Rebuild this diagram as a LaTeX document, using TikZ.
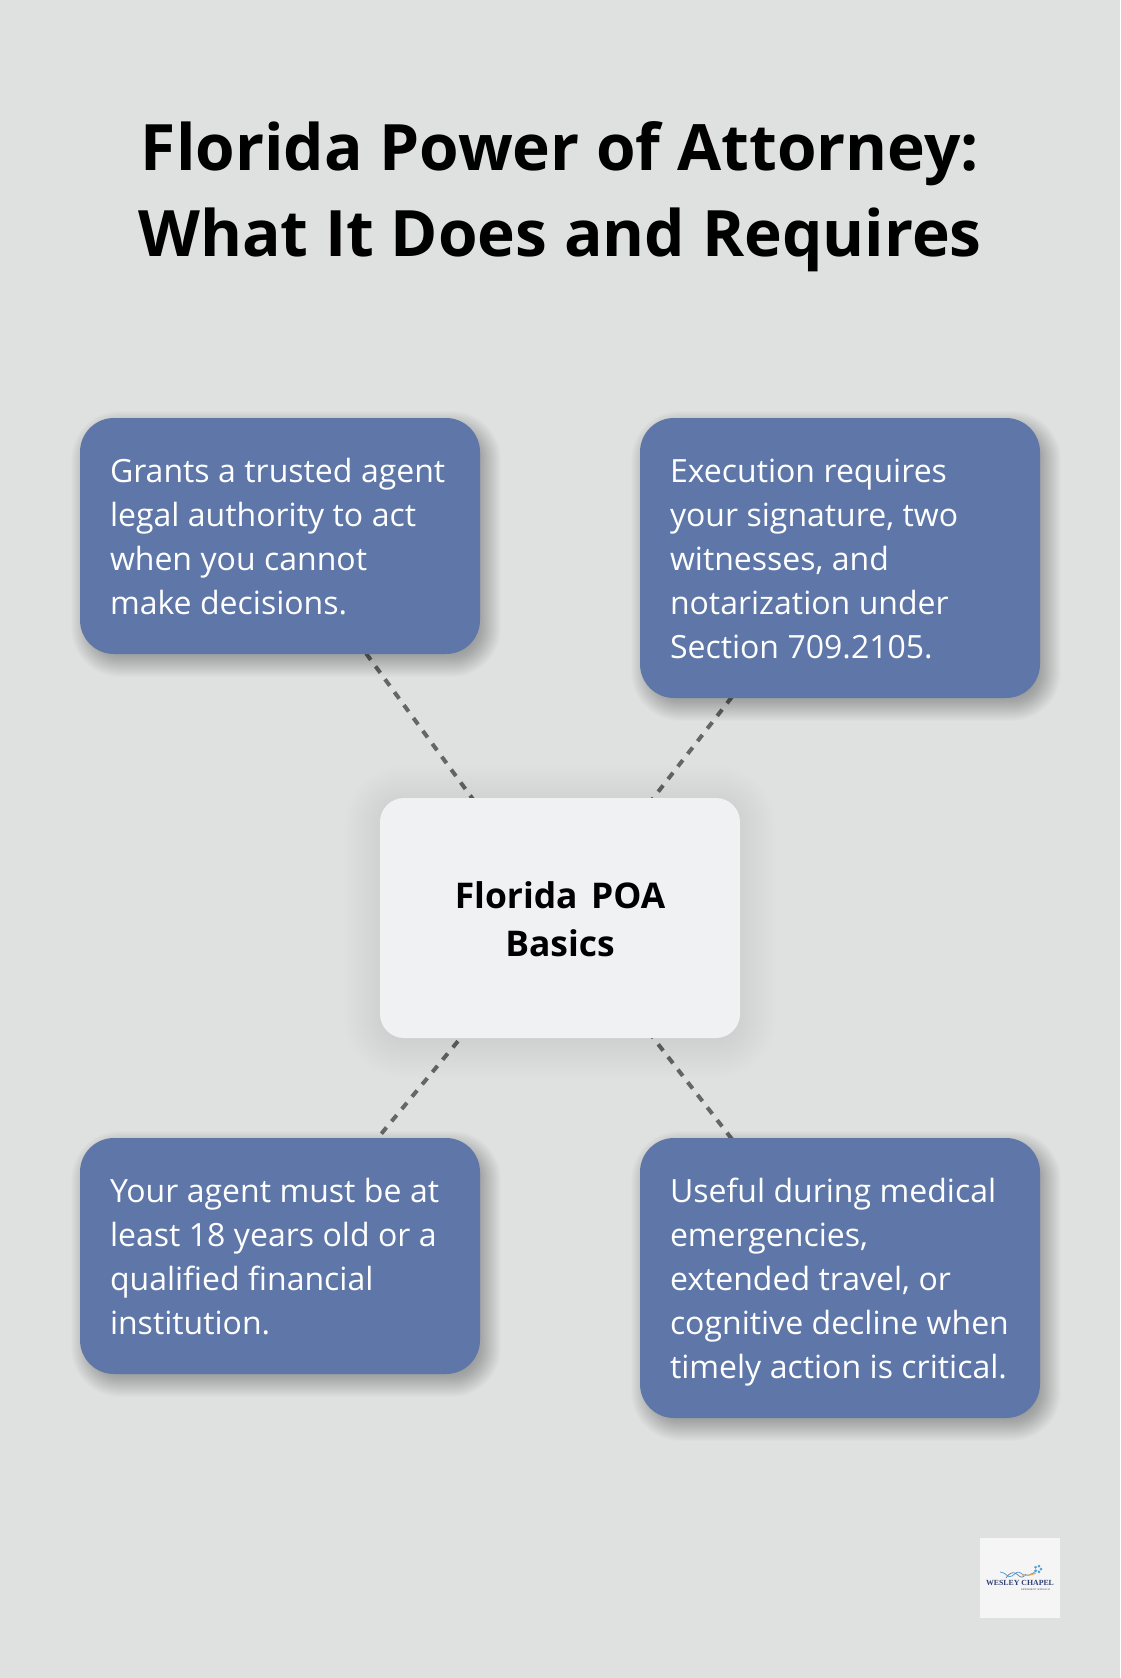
\documentclass[tikz,border=0pt]{standalone}
\usepackage{fontspec}
\setmainfont{Open Sans}
\usetikzlibrary{calc}
\pgfdeclarelayer{back}
\pgfsetlayers{back,main}
\definecolor{pagebg}{HTML}{DFE1E0}
\definecolor{bluebox}{HTML}{5E77A8}
\definecolor{centerbox}{HTML}{EFF1F3}
\definecolor{dashgrey}{HTML}{666666}
\definecolor{logobg}{HTML}{F5F5F5}
\definecolor{logonavy}{HTML}{2F3F77}
\definecolor{logoblue}{HTML}{4FA3D8}
\definecolor{logoorange}{HTML}{F0A850}
\newcommand{\softshadow}[7]{% x0 y0 x1 y1 radius blur opacity
  \foreach \k in {0,...,29}{
    \pgfmathsetmacro{\ex}{#6*(1-\k/14.5)}
    \pgfmathsetmacro{\rr}{max(#5+\ex,1)}
    \fill[black,opacity=#7,rounded corners=\rr pt]
      (#1-\ex,#2-\ex) rectangle (#3+\ex,#4+\ex);
  }}
\newcommand{\firstline}[1]{\makebox[340pt][l]{\spaceskip=0.265em\relax\rule[-9.6pt]{0pt}{44pt}#1}}
\newcommand{\hubstrut}{\rule[-9.5pt]{0pt}{48pt}}
\tikzset{
  x=1pt,y=-1pt,
  bluenode/.style={shape=rectangle,fill=bluebox,rounded corners=34pt,minimum width=400pt,
    text width=340pt,inner xsep=30pt,inner ysep=0pt,align=left,text=white,
    font=\fontsize{32}{44}\selectfont},
  hubnode/.style={shape=rectangle,fill=centerbox,rounded corners=24pt,minimum width=360pt,
    minimum height=240pt,inner sep=0pt,align=center,text=black,
    font=\fontsize{35.4}{48}\selectfont\bfseries},
  titlenode/.style={align=center,inner sep=0pt,text=black,
    font=\fontsize{64}{86}\selectfont\bfseries},
  linkline/.style={draw=dashgrey,line width=4pt,dash pattern=on 8pt off 8pt},
}
\begin{document}
\begin{tikzpicture}
\useasboundingbox (0,0) rectangle (1120,1678);
% shadows
\softshadow{86}{426}{486}{662}{34}{15}{0.012}
\softshadow{646}{426}{1046}{706}{34}{15}{0.012}
\softshadow{86}{1146}{486}{1382}{34}{15}{0.012}
\softshadow{646}{1146}{1046}{1426}{34}{15}{0.012}
\softshadow{380}{802}{740}{1042}{24}{36}{0.0055}
% title
\node[titlenode] (title) at (560,197) {Florida Power of Attorney:\\What It Does and Requires};
% boxes
\node[hubnode] (hub) at (560,918) {\spaceskip=\dimexpr\fontdimen2\font+4.3pt\relax\hubstrut Florida POA\\Basics\hubstrut};
\node[bluenode,minimum height=236pt] (tl) at (280,536) {\firstline{Grants a trusted agent}\\\firstline{legal authority to act}\\\firstline{when you cannot}\\\firstline{make decisions.}};
\node[bluenode,minimum height=280pt] (tr) at (840,558) {\firstline{Execution requires}\\\firstline{your signature, two}\\\firstline{witnesses, and}\\\firstline{notarization under}\\\firstline{Section 709.2105.}};
\node[bluenode,minimum height=236pt] (bl) at (280,1256) {\firstline{Your agent must be at}\\\firstline{least 18 years old or a}\\\firstline{qualified financial}\\\firstline{institution.}};
\node[bluenode,minimum height=280pt] (br) at (840,1278) {\firstline{Useful during medical}\\\firstline{emergencies,}\\\firstline{extended travel, or}\\\firstline{cognitive decline when}\\\firstline{timely action is critical.}};
% page and connectors, behind the shadows and boxes
\begin{pgfonlayer}{back}
\fill[pagebg] (0,0) rectangle (1120,1678);
\draw[linkline] (hub.center) -- (tl.center);
\draw[linkline] (hub.center) -- (tr.center);
\draw[linkline] (hub.center) -- (bl.center);
\draw[linkline] (hub.center) -- (br.center);
\end{pgfonlayer}
% logo
\node[shape=rectangle,fill=logobg,minimum width=80pt,minimum height=80pt,inner sep=0pt] (logo) at (1020,1578) {};
\node[inner sep=0pt,text=logonavy] (logoname) at (1020,1583) {\fontspec{Liberation Serif}\fontsize{7.8}{9}\selectfont\bfseries WESLEY CHAPEL};
\node[inner sep=0pt,text=logonavy] (logosub) at (1035.5,1589.5) {\fontspec{Liberation Serif}\fontsize{2.4}{3}\selectfont RETIREMENT APPROACH};
\draw[logoblue,line width=0.8pt] (1000,1572) .. controls (1006,1572) and (1008,1579) .. (1012,1576) .. controls (1016,1573) and (1018,1570) .. (1022,1574) .. controls (1025,1577) and (1032,1575) .. (1037,1570);
\draw[logonavy!70,line width=0.7pt] (1006,1578) .. controls (1010,1572) and (1014,1571) .. (1018,1575) .. controls (1021,1578) and (1023,1578) .. (1026,1574);
\draw[logoorange,line width=1.1pt] (1022,1575) .. controls (1027,1576) and (1032,1575) .. (1036,1573);
\foreach \a in {0,72,144,216,288}{\fill[logoblue] ($(1038,1569)+(\a:3)$) circle (1.5pt);}
\end{tikzpicture}
\end{document}
